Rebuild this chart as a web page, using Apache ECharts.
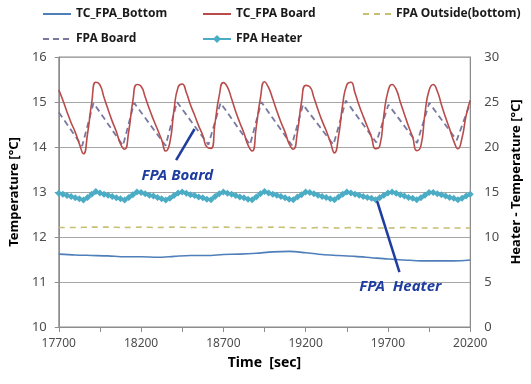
<!DOCTYPE html>
<html>
<head>
<meta charset="utf-8">
<script src="https://cdn.jsdelivr.net/npm/echarts@6/dist/echarts.min.js"></script>
<style>
  html, body { margin: 0; padding: 0; background: #fff; }
  #chart { width: 531px; height: 384px; }
</style>
</head>
<body>
<div id="chart"></div>
<script>
// Sample times (sec) for the fast-varying channels, every 25 s
const fineTime = [
  17700, 17725, 17750, 17775, 17800, 17825, 17850, 17875, 17900, 17925,
  17950, 17975, 18000, 18025, 18050, 18075, 18100, 18125, 18150, 18175,
  18200, 18225, 18250, 18275, 18300, 18325, 18350, 18375, 18400, 18425,
  18450, 18475, 18500, 18525, 18550, 18575, 18600, 18625, 18650, 18675,
  18700, 18725, 18750, 18775, 18800, 18825, 18850, 18875, 18900, 18925,
  18950, 18975, 19000, 19025, 19050, 19075, 19100, 19125, 19150, 19175,
  19200, 19225, 19250, 19275, 19300, 19325, 19350, 19375, 19400, 19425,
  19450, 19475, 19500, 19525, 19550, 19575, 19600, 19625, 19650, 19675,
  19700, 19725, 19750, 19775, 19800, 19825, 19850, 19875, 19900, 19925,
  19950, 19975, 20000, 20025, 20050, 20075, 20100, 20125, 20150, 20175,
  20200
];

// TC_FPA Board (°C)
const tcBoard = [
  15.27, 15.04, 14.78, 14.54, 14.33, 14.07, 13.85, 14.30, 14.98, 15.44,
  15.38, 15.10, 14.83, 14.57, 14.34, 14.07, 13.95, 14.35, 15.02, 15.39,
  15.35, 15.11, 14.85, 14.61, 14.39, 14.16, 13.91, 14.10, 14.82, 15.33,
  15.40, 15.21, 14.94, 14.71, 14.47, 14.26, 14.00, 13.97, 14.55, 15.14,
  15.43, 15.33, 15.07, 14.79, 14.54, 14.31, 14.04, 13.91, 14.45, 15.08,
  15.45, 15.32, 15.07, 14.80, 14.55, 14.33, 14.07, 13.95, 14.33, 15.00,
  15.37, 15.34, 15.10, 14.83, 14.58, 14.36, 14.11, 13.87, 14.24, 14.94,
  15.38, 15.44, 15.20, 14.92, 14.68, 14.45, 14.22, 13.96, 14.02, 14.70,
  15.23, 15.39, 15.28, 15.00, 14.73, 14.46, 14.22, 13.92, 14.02, 14.75,
  15.26, 15.39, 15.24, 14.94, 14.66, 14.40, 14.13, 13.96, 14.20, 14.70,
  15.04
];

// FPA Heater (°C)
const fpaHeater = [
  12.97, 12.95, 12.92, 12.90, 12.87, 12.85, 12.82, 12.88, 12.95, 13.01,
  12.98, 12.95, 12.93, 12.90, 12.87, 12.85, 12.82, 12.88, 12.94, 13.00,
  12.99, 12.96, 12.93, 12.91, 12.88, 12.85, 12.82, 12.86, 12.92, 12.98,
  13.00, 12.97, 12.94, 12.92, 12.89, 12.87, 12.84, 12.83, 12.90, 12.96,
  13.00, 12.97, 12.95, 12.92, 12.89, 12.87, 12.84, 12.83, 12.89, 12.96,
  13.01, 12.98, 12.95, 12.93, 12.90, 12.87, 12.84, 12.83, 12.89, 12.94,
  13.00, 12.99, 12.96, 12.93, 12.90, 12.88, 12.85, 12.83, 12.89, 12.95,
  13.00, 12.98, 12.95, 12.93, 12.90, 12.88, 12.86, 12.83, 12.87, 12.93,
  12.98, 13.00, 12.97, 12.94, 12.91, 12.88, 12.86, 12.83, 12.87, 12.93,
  12.99, 12.99, 12.96, 12.94, 12.91, 12.88, 12.86, 12.83, 12.86, 12.91,
  12.95
];

// FPA Board: turning points of the sawtooth (time, °C)
const boardTime = [
  17700, 17842, 17911, 18090, 18158, 18349, 18418, 18609, 18683, 18862,
  18931, 19116, 19184, 19369, 19444, 19629, 19703, 19877, 19951, 20118,
  20200
];
const fpaBoard = [
  14.77, 14.02, 14.98, 14.03, 14.98, 14.03, 15.00, 14.05, 14.98, 14.05,
  15.00, 14.04, 14.94, 14.05, 15.03, 14.10, 14.94, 14.09, 14.98, 14.15,
  14.98
];

// Slow channels, every 100 s
const coarseTime = [
  17700, 17800, 17900, 18000, 18100, 18200, 18300, 18400, 18500, 18600,
  18700, 18800, 18900, 19000, 19100, 19200, 19300, 19400, 19500, 19600,
  19700, 19800, 19900, 20000, 20100, 20200
];
const tcBottom = [
  11.62, 11.60, 11.59, 11.58, 11.56, 11.56, 11.55, 11.57, 11.59, 11.59,
  11.61, 11.62, 11.64, 11.67, 11.68, 11.65, 11.61, 11.59, 11.57, 11.54,
  11.51, 11.49, 11.47, 11.47, 11.47, 11.49
];
const fpaOutside = [
  12.21, 12.21, 12.22, 12.22, 12.21, 12.22, 12.21, 12.22, 12.21, 12.21,
  12.22, 12.21, 12.21, 12.22, 12.21, 12.20, 12.21, 12.20, 12.21, 12.20,
  12.20, 12.21, 12.20, 12.20, 12.20, 12.20
];

// Axis ticks and labels
const timeTicks = [17700, 17950, 18200, 18450, 18700, 18950, 19200, 19450, 19700, 19950, 20200];
const timeLabels = [17700, 18200, 18700, 19200, 19700, 20200];

const zip = (xs, ys) => xs.map((x, i) => [x, ys[i]]);

const FONT = 'Noto Sans';
const AXIS_GRAY = '#8c8c8c';
const LABEL_COLOR = '#4d4d4d';
const NOTE_BLUE = '#1f3d9e';

const chart = echarts.init(document.getElementById('chart'), null, { renderer: 'canvas' });

const legendBase = {
  orient: 'horizontal',
  padding: 0,
  itemWidth: 28,
  itemHeight: 10,
  itemGap: 4,
  textStyle: { fontFamily: FONT, fontSize: 12, fontWeight: 'bold', color: '#1a1a1a' }
};
// legend entries for plain lines: hide the marker, keep the line sample
const lineOnly = { itemStyle: { opacity: 0 } };

chart.setOption({
  animation: false,
  backgroundColor: '#fff',
  textStyle: { fontFamily: FONT },
  legend: [
    Object.assign({}, legendBase, lineOnly, { data: ['TC_FPA_Bottom'], left: 42, top: 8 }),
    Object.assign({}, legendBase, lineOnly, { data: ['TC_FPA Board'], left: 202, top: 8 }),
    Object.assign({}, legendBase, lineOnly, { data: ['FPA Outside(bottom)'], left: 362, top: 8 }),
    Object.assign({}, legendBase, lineOnly, { data: ['FPA Board'], left: 42, top: 33 }),
    Object.assign({}, legendBase, { data: ['FPA Heater'], left: 202, top: 33 })
  ],
  grid: {
    left: 57, right: 50, top: 57, bottom: 57,
    show: true, borderColor: AXIS_GRAY, borderWidth: 1
  },
  xAxis: {
    type: 'value',
    min: 17700, max: 20200,
    name: 'Time  [sec]',
    nameLocation: 'middle',
    nameGap: 29,
    nameTextStyle: { fontFamily: FONT, fontSize: 14, fontWeight: 'bold', color: '#000' },
    axisLine: { show: true, lineStyle: { color: AXIS_GRAY } },
    axisTick: { show: true, length: 5, inside: false, customValues: timeTicks, lineStyle: { color: AXIS_GRAY } },
    axisLabel: {
      customValues: timeLabels, margin: 11, fontSize: 12, color: LABEL_COLOR, fontFamily: FONT,
      formatter: v => String(v)
    },
    splitLine: { show: false }
  },
  yAxis: [
    {
      type: 'value', min: 10, max: 16, interval: 1,
      name: 'Temperature [°C]',
      nameLocation: 'middle',
      nameGap: 35,
      nameTextStyle: { fontFamily: FONT, fontSize: 13, fontWeight: 'bold', color: '#000' },
      axisLine: { show: true, lineStyle: { color: AXIS_GRAY } },
      axisTick: { show: true, length: 4, lineStyle: { color: AXIS_GRAY } },
      axisLabel: { margin: 12, fontSize: 13, color: LABEL_COLOR, fontFamily: FONT },
      splitLine: { show: true, lineStyle: { color: '#a6a6a6', width: 1 } }
    },
    {
      type: 'value', min: 0, max: 30, interval: 5,
      position: 'right',
      name: 'Heater - Temperature [°C]',
      nameLocation: 'middle',
      nameGap: 31,
      nameTextStyle: { fontFamily: FONT, fontSize: 13, fontWeight: 'bold', color: '#000', padding: [0, 0, 0, 20] },
      axisLine: { show: true, lineStyle: { color: AXIS_GRAY } },
      axisTick: { show: false },
      axisLabel: { margin: 14, fontSize: 13, color: LABEL_COLOR, fontFamily: FONT },
      splitLine: { show: false }
    }
  ],
  series: [
    {
      name: 'TC_FPA_Bottom',
      type: 'line',
      symbol: 'none',
      smooth: 0.3,
      data: zip(coarseTime, tcBottom),
      lineStyle: { color: '#4f7fb8', width: 1.6 },
      itemStyle: { color: '#4f7fb8' },
      z: 2
    },
    {
      name: 'TC_FPA Board',
      type: 'line',
      symbol: 'none',
      smooth: 0.55,
      data: zip(fineTime, tcBoard),
      lineStyle: { color: '#b94b4b', width: 1.6 },
      itemStyle: { color: '#b94b4b' },
      z: 4
    },
    {
      name: 'FPA Outside(bottom)',
      type: 'line',
      symbol: 'none',
      smooth: 0.3,
      data: zip(coarseTime, fpaOutside),
      lineStyle: { color: '#c7bf72', width: 1.6, type: [6, 5] },
      itemStyle: { color: '#c7bf72' },
      z: 2
    },
    {
      name: 'FPA Board',
      type: 'line',
      symbol: 'none',
      data: zip(boardTime, fpaBoard),
      lineStyle: { color: '#7878a0', width: 1.8, type: [6, 4] },
      itemStyle: { color: '#7878a0' },
      z: 3,
      markLine: {
        silent: true,
        symbol: ['none', 'arrow'],
        symbolSize: [0, 11],
        lineStyle: { color: NOTE_BLUE, width: 2.5, type: 'solid' },
        label: { show: false },
        data: [
          [{ coord: [18413, 13.71] }, { coord: [18525, 14.40] }]
        ]
      },
      markPoint: {
        silent: true,
        symbol: 'rect',
        symbolSize: 1,
        itemStyle: { color: 'rgba(0,0,0,0)' },
        label: {
          show: true, position: 'inside', formatter: 'FPA Board',
          fontFamily: FONT, fontSize: 15, fontStyle: 'italic', fontWeight: 'bold', color: NOTE_BLUE
        },
        data: [{ coord: [18420, 13.36] }]
      }
    },
    {
      name: 'FPA Heater',
      type: 'line',
      symbol: 'diamond',
      symbolSize: 7,
      showSymbol: true,
      data: zip(fineTime, fpaHeater),
      lineStyle: { color: '#4aacc5', width: 2 },
      itemStyle: { color: '#4aacc5' },
      z: 3,
      markLine: {
        silent: true,
        symbol: ['none', 'arrow'],
        symbolSize: [0, 11],
        lineStyle: { color: NOTE_BLUE, width: 2.5, type: 'solid' },
        label: { show: false },
        data: [
          [{ coord: [19770, 11.22] }, { coord: [19634, 12.80] }]
        ]
      },
      markPoint: {
        silent: true,
        symbol: 'rect',
        symbolSize: 1,
        itemStyle: { color: 'rgba(0,0,0,0)' },
        label: {
          show: true, position: 'inside', formatter: 'FPA  Heater',
          fontFamily: FONT, fontSize: 15, fontStyle: 'italic', fontWeight: 'bold', color: NOTE_BLUE
        },
        data: [{ coord: [19775, 10.89] }]
      }
    }
  ]
});
</script>
</body>
</html>
